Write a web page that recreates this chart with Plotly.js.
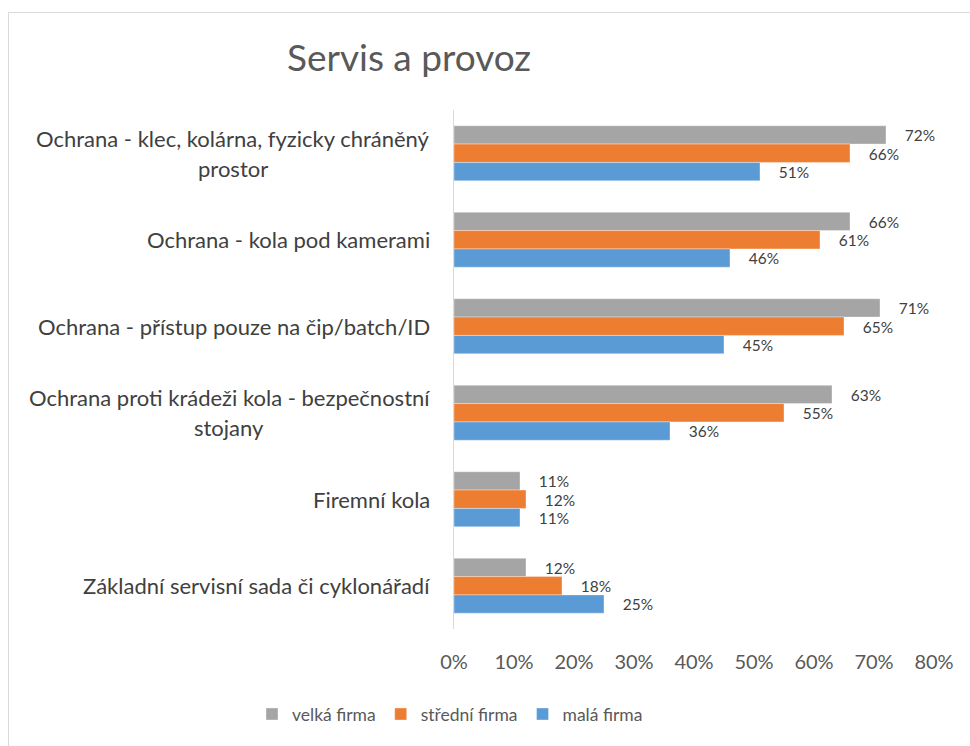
<!DOCTYPE html>
<html>
<head>
<meta charset="utf-8">
<script src="https://cdn.plot.ly/plotly-3.0.1.min.js"></script>
<style>
  html, body { margin: 0; padding: 0; background: #fff; }
  #chart { width: 970px; height: 746px; }
  #frame { position: absolute; left: 8px; top: 12px; width: 980px; height: 760px;
           border: 1px solid #d9d9d9; pointer-events: none; box-sizing: border-box; }
</style>
</head>
<body>
<div id="chart"></div>
<div id="frame"></div>
<script>
const categories = [
  "Ochrana - klec, kolárna, fyzicky chráněný<br>prostor",
  "Ochrana - kola pod kamerami",
  "Ochrana - přístup pouze na čip/batch/ID",
  "Ochrana proti krádeži kola - bezpečnostní<br>stojany",
  "Firemní kola",
  "Základní servisní sada či cyklonářadí"
];
const seriesNames = ["velká firma", "střední firma", "malá firma"];
const velka = [72, 66, 71, 63, 11, 12];
const stredni = [66, 61, 65, 55, 12, 18];
const mala = [51, 46, 45, 36, 11, 25];
const colors = ["#a5a5a5", "#ed7d31", "#5b9bd5"];
const xTicks = [0, 10, 20, 30, 40, 50, 60, 70, 80];

const values = [velka, stredni, mala];
const catKeys = categories.map((c, i) => "c" + i);

const traces = values.map((v, k) => ({
  type: "bar",
  orientation: "h",
  name: seriesNames[k],
  x: v,
  y: catKeys,
  marker: { color: colors[k], line: { color: "rgba(255,255,255,0.6)", width: 0.6 } },
  text: v.map(x => x + "%"),
  texttemplate: "\u00a0\u00a0\u00a0\u00a0%{text}",
  textposition: "outside",
  cliponaxis: false,
  textfont: { family: "Lato, sans-serif", size: 16, color: "#404040" },
  hoverinfo: "skip"
}));

const annotations = [];
categories.forEach((c, i) => {
  const lines = c.split("<br>");
  const n = lines.length;
  lines.forEach((ln, j) => {
    annotations.push({
      xref: "paper", yref: "y",
      x: -0.046, y: catKeys[i],
      xanchor: "right", yanchor: "middle",
      text: ln, showarrow: false,
      yshift: -((j - (n - 1) / 2) * 30),
      font: { family: "Lato, sans-serif", size: 22, color: "#404040" }
    });
  });
});

const layout = {
  width: 970, height: 746,
  margin: { l: 454, r: 36, t: 110, b: 117 },
  paper_bgcolor: "#fff", plot_bgcolor: "#fff",
  title: {
    text: "Servis a provoz",
    xref: "container", yref: "container",
    x: 409 / 970, xanchor: "center",
    y: 1 - 58 / 746, yanchor: "middle",
    font: { family: "Lato, sans-serif", size: 37, color: "#595959" }
  },
  barmode: "group",
  bargap: 0.364,
  bargroupgap: 0,
  xaxis: {
    range: [0, 80], tickvals: xTicks, ticktext: xTicks.map(t => t + "%"),
    showgrid: false, zeroline: false, showline: false,
    ticks: "outside", ticklen: 15, tickcolor: "rgba(0,0,0,0)",
    tickfont: { family: "Lato, sans-serif", size: 20, color: "#595959" },
    fixedrange: true
  },
  yaxis: {
    type: "category", autorange: "reversed",
    showticklabels: false, showgrid: false, zeroline: false,
    showline: true, linecolor: "#d9d9d9", linewidth: 1.5,
    ticks: "", fixedrange: true
  },
  legend: {
    orientation: "h", x: (252 - 454) / 480, xanchor: "left",
    y: -0.164, yanchor: "middle",
    font: { family: "Lato, sans-serif", size: 17.5, color: "#595959" },
    itemwidth: 30, tracegroupgap: 0
  },
  showlegend: true,
  annotations: annotations
};

Plotly.newPlot("chart", traces, layout, { displayModeBar: false, staticPlot: true }).then(gd => {
  // center continuation lines of wrapped labels under their first line
  const anns = gd.layout.annotations.map(a => Object.assign({}, a));
  const widths = [];
  gd.querySelectorAll(".annotation").forEach(n => {
    const t = n.querySelector("text");
    widths.push(t ? t.getBBox().width : 0);
  });
  let ai = 0;
  categories.forEach(c => {
    const lines = c.split("<br>");
    if (lines.length > 1) {
      const w0 = widths[ai];
      for (let j = 1; j < lines.length; j++) {
        anns[ai + j].xshift = -(w0 - widths[ai + j]) / 2;
      }
    }
    ai += lines.length;
  });
  Plotly.relayout(gd, { annotations: anns });
});
</script>
</body>
</html>
